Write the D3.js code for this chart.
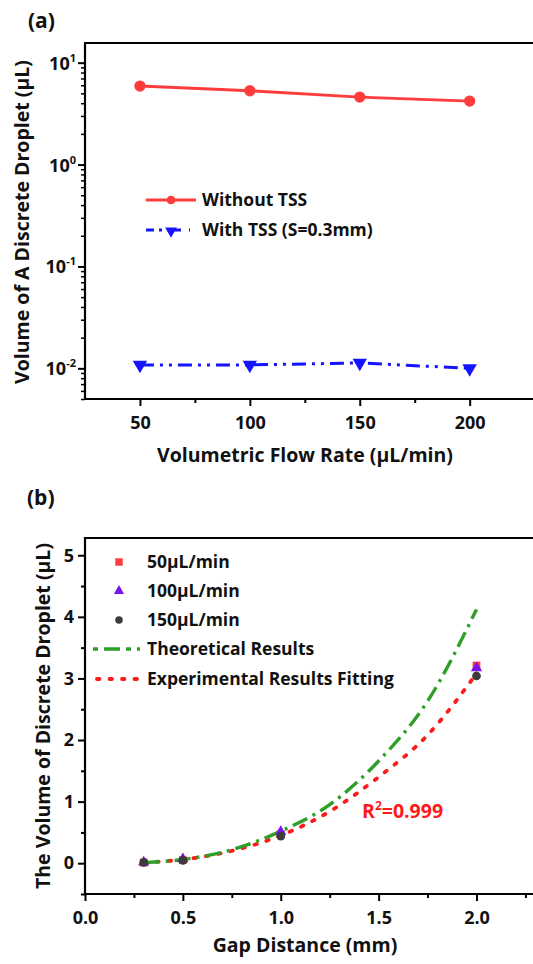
<!DOCTYPE html>
<html>
<head>
<meta charset="utf-8">
<script src="https://d3js.org/d3.v7.min.js"></script>
<style>
    body { margin: 0; background: #fff; }
    svg text { font-family: "Open Sans", Lato, sans-serif; font-weight: bold; fill: #111; }
</style>
</head>
<body>
<svg id="chart" width="533" height="964"></svg>
<script>
// ---- panel (a) data
var flowRates = [50, 100, 150, 200];
var withoutTSS = [5.9, 5.3, 4.6, 4.2];
var withTSS = [0.0108, 0.0108, 0.0113, 0.0100];
var logTicks = [0.01, 0.1, 1, 10];
var logTickExp = ["-2", "-1", "0", "1"];
var flowTicks = [50, 100, 150, 200];
var flowMinor = [75, 125, 175];

// ---- panel (b) data
var gaps = [0.3, 0.5, 1.0, 2.0];
var v50 = [0.01, 0.05, 0.47, 3.21];
var v100 = [0.015, 0.07, 0.51, 3.17];
var v150 = [0.012, 0.045, 0.44, 3.04];
var curveGaps = [0.3, 0.5, 0.75, 1.0, 1.25, 1.5, 1.75, 2.0];
var theoretical = [0.01, 0.06, 0.22, 0.52, 0.95, 1.66, 2.63, 4.12];
var fitting = [0.01, 0.06, 0.2, 0.45, 0.84, 1.40, 2.08, 3.08];
var gapTicks = [0, 0.5, 1.0, 1.5, 2.0];
var gapMinor = [0.25, 0.75, 1.25, 1.75, 2.25];
var volTicks = [0, 1, 2, 3, 4, 5];
var volMinor = [-0.5, 0.5, 1.5, 2.5, 3.5, 4.5];

var svg = d3.select("#chart");
var red = "#ff3c3c", blue = "#1414ff", green = "#2ea02a", purple = "#7a12f0", grey = "#3c3c3c";
var fitRed = "#ff1a1a";

function frame(g, x0, x1, y0, y1) {
    g.append("path")
        .attr("d", "M" + x1 + "," + y0 + "H" + x0 + "V" + y1 + "H" + x1)
        .attr("fill", "none").attr("stroke", "#000").attr("stroke-width", 2.2);
}

// ================= (a)
var xA = d3.scaleLinear().domain([25, 232]).range([85, 540]);
var yA = d3.scaleLog().domain([0.005, 15.6]).range([399, 43]);
var gA = svg.append("g");

gA.append("text").attr("x", 28).attr("y", 28).style("font-size", "21px").text("(a)");

// x axis
var axA = gA.append("g").attr("transform", "translate(0,399)")
    .call(d3.axisBottom(xA).tickValues(flowTicks).tickSize(7).tickSizeOuter(0).tickFormat(d3.format("d")));
axA.select(".domain").remove();
axA.selectAll("line").attr("stroke-width", 2);
axA.selectAll("text").attr("dy", "1.1em").style("font-size", "18px").attr("fill", "#111");
var axAm = gA.append("g").attr("transform", "translate(0,399)")
    .call(d3.axisBottom(xA).tickValues(flowMinor).tickSize(4).tickFormat(""));
axAm.select(".domain").remove();
axAm.selectAll("line").attr("stroke-width", 2);

// y axis (log)
var minorLog = [];
[0.001, 0.01, 0.1, 1, 10].forEach(function(p) {
    for (var k = 2; k <= 9; k++) {
        var v = k * p;
        if (v >= 0.005 && v <= 15.6) minorLog.push(v);
    }
});
var ayA = gA.append("g").attr("transform", "translate(85,0)")
    .call(d3.axisLeft(yA).tickValues(logTicks).tickSize(7).tickFormat(""));
ayA.select(".domain").remove();
ayA.selectAll("line").attr("stroke-width", 2);
var ayAm = gA.append("g").attr("transform", "translate(85,0)")
    .call(d3.axisLeft(yA).tickValues(minorLog).tickSize(4).tickFormat(""));
ayAm.select(".domain").remove();
ayAm.selectAll("line").attr("stroke-width", 1.5);
logTicks.forEach(function(t, i) {
    var tx = gA.append("text").attr("x", 76).attr("y", yA(t) + 7)
        .attr("text-anchor", "end").style("font-size", "18px");
    tx.append("tspan").text("10");
    tx.append("tspan").attr("dy", -8).style("font-size", "11px").text(logTickExp[i]);
});

frame(gA, 85, 545, 43, 399);

// lines
var lineA = d3.line().x(function(d) { return xA(d[0]); }).y(function(d) { return yA(d[1]); });
gA.append("path").datum(d3.zip(flowRates, withoutTSS)).attr("d", lineA)
    .attr("fill", "none").attr("stroke", red).attr("stroke-width", 2.8);
gA.append("path").datum(d3.zip(flowRates, withTSS)).attr("d", lineA)
    .attr("fill", "none").attr("stroke", blue).attr("stroke-width", 3)
    .attr("stroke-dasharray", "14,6,3,6,3,6");
gA.selectAll(".mr").data(d3.zip(flowRates, withoutTSS)).enter().append("path")
    .attr("transform", function(d) { return "translate(" + xA(d[0]) + "," + yA(d[1]) + ")"; })
    .attr("d", d3.symbol().type(d3.symbolCircle).size(100)).attr("fill", red);
gA.selectAll(".mb").data(d3.zip(flowRates, withTSS)).enter().append("path")
    .attr("transform", function(d) { return "translate(" + xA(d[0]) + "," + yA(d[1]) + ") rotate(180)"; })
    .attr("d", d3.symbol().type(d3.symbolTriangle).size(90)).attr("fill", blue);

// legend (a)
gA.append("line").attr("x1", 146).attr("x2", 196).attr("y1", 200).attr("y2", 200)
    .attr("stroke", red).attr("stroke-width", 2.8);
gA.append("path").attr("transform", "translate(171,200)")
    .attr("d", d3.symbol().type(d3.symbolCircle).size(60)).attr("fill", red);
gA.append("text").attr("x", 202).attr("y", 206).style("font-size", "17.5px").text("Without TSS");
gA.append("line").attr("x1", 146).attr("x2", 190).attr("y1", 230).attr("y2", 230)
    .attr("stroke", blue).attr("stroke-width", 3).attr("stroke-dasharray", "8,5,3,5,14");
gA.append("path").attr("transform", "translate(171,231) rotate(180)")
    .attr("d", d3.symbol().type(d3.symbolTriangle).size(60)).attr("fill", blue);
gA.append("text").attr("x", 202).attr("y", 236).style("font-size", "17.5px").text("With TSS (S=0.3mm)");

// titles (a)
gA.append("text").attr("x", 305).attr("y", 462).attr("text-anchor", "middle")
    .style("font-size", "19.5px").text("Volumetric Flow Rate (\u00b5L/min)");
gA.append("text").attr("transform", "translate(29,222) rotate(-90)").attr("text-anchor", "middle")
    .style("font-size", "19.5px").text("Volume of A Discrete Droplet (\u00b5L)");

// ================= (b)
var xB = d3.scaleLinear().domain([0, 2.35]).range([85, 545]);
var yB = d3.scaleLinear().domain([-0.5, 5.28]).range([894, 538]);
var gB = svg.append("g");

gB.append("text").attr("x", 27).attr("y", 505).style("font-size", "21px").text("(b)");

var axB = gB.append("g").attr("transform", "translate(0,894)")
    .call(d3.axisBottom(xB).tickValues(gapTicks).tickSize(7).tickSizeOuter(0).tickFormat(d3.format(".1f")));
axB.select(".domain").remove();
axB.selectAll("line").attr("stroke-width", 2);
axB.selectAll("text").attr("dy", "1.1em").style("font-size", "18px").attr("fill", "#111");
var axBm = gB.append("g").attr("transform", "translate(0,894)")
    .call(d3.axisBottom(xB).tickValues(gapMinor).tickSize(4).tickFormat(""));
axBm.select(".domain").remove();
axBm.selectAll("line").attr("stroke-width", 2);

var ayB = gB.append("g").attr("transform", "translate(85,0)")
    .call(d3.axisLeft(yB).tickValues(volTicks).tickSize(7).tickFormat(d3.format("d")));
ayB.select(".domain").remove();
ayB.selectAll("line").attr("stroke-width", 2);
ayB.selectAll("text").attr("x", -11).style("font-size", "18px").attr("fill", "#111");
var ayBm = gB.append("g").attr("transform", "translate(85,0)")
    .call(d3.axisLeft(yB).tickValues(volMinor).tickSize(4).tickFormat(""));
ayBm.select(".domain").remove();
ayBm.selectAll("line").attr("stroke-width", 2);

frame(gB, 85, 545, 538, 894);

// curves
var lineB = d3.line().curve(d3.curveMonotoneX)
    .x(function(d) { return xB(d[0]); }).y(function(d) { return yB(d[1]); });
gB.append("path").datum(d3.zip(curveGaps, fitting)).attr("d", lineB)
    .attr("fill", "none").attr("stroke", fitRed).attr("stroke-width", 3.8)
    .attr("stroke-linecap", "round").attr("stroke-dasharray", "2.5,10");
gB.append("path").datum(d3.zip(curveGaps, theoretical)).attr("d", lineB)
    .attr("fill", "none").attr("stroke", green).attr("stroke-width", 3.4)
    .attr("stroke-dasharray", "16,6,3,6");

// points
function pts(vals, type, color, size, cls) {
    gB.selectAll("." + cls).data(d3.zip(gaps, vals)).enter().append("path")
        .attr("transform", function(d) { return "translate(" + xB(d[0]) + "," + yB(d[1]) + ")"; })
        .attr("d", d3.symbol().type(type).size(size)).attr("fill", color);
}
pts(v50, d3.symbolSquare, red, 60, "p50");
pts(v100, d3.symbolTriangle, purple, 55, "p100");
pts(v150, d3.symbolCircle, grey, 60, "p150");

gB.append("text").attr("x", 362).attr("y", 818).style("fill", fitRed)
    .style("font-size", "19.5px")
    .call(function(t) {
        t.append("tspan").text("R");
        t.append("tspan").attr("dy", -8).style("font-size", "12px").text("2");
        t.append("tspan").attr("dy", 8).text("=0.999");
    });

// legend (b)
var legY = [562, 591, 620, 649, 679];
gB.append("path").attr("transform", "translate(119," + legY[0] + ")")
    .attr("d", d3.symbol().type(d3.symbolSquare).size(55)).attr("fill", red);
gB.append("path").attr("transform", "translate(119," + legY[1] + ")")
    .attr("d", d3.symbol().type(d3.symbolTriangle).size(45)).attr("fill", purple);
gB.append("path").attr("transform", "translate(119," + legY[2] + ")")
    .attr("d", d3.symbol().type(d3.symbolCircle).size(45)).attr("fill", grey);
gB.append("line").attr("x1", 93).attr("x2", 140).attr("y1", legY[3]).attr("y2", legY[3])
    .attr("stroke", green).attr("stroke-width", 3.4).attr("stroke-dasharray", "5,6,16,6");
gB.append("line").attr("x1", 97).attr("x2", 140).attr("y1", legY[4]).attr("y2", legY[4])
    .attr("stroke", fitRed).attr("stroke-width", 3.8).attr("stroke-linecap", "round")
    .attr("stroke-dasharray", "2.5,10");
var legText = ["50\u00b5L/min", "100\u00b5L/min", "150\u00b5L/min", "Theoretical Results", "Experimental Results Fitting"];
legText.forEach(function(s, i) {
    gB.append("text").attr("x", 147).attr("y", legY[i] + 6).style("font-size", "17.5px").text(s);
});

// titles (b)
gB.append("text").attr("x", 305).attr("y", 952).attr("text-anchor", "middle")
    .style("font-size", "19.5px").text("Gap Distance (mm)");
gB.append("text").attr("transform", "translate(50,716) rotate(-90)").attr("text-anchor", "middle")
    .style("font-size", "19.5px").text("The Volume of Discrete Droplet (\u00b5L)");
</script>
</body>
</html>
